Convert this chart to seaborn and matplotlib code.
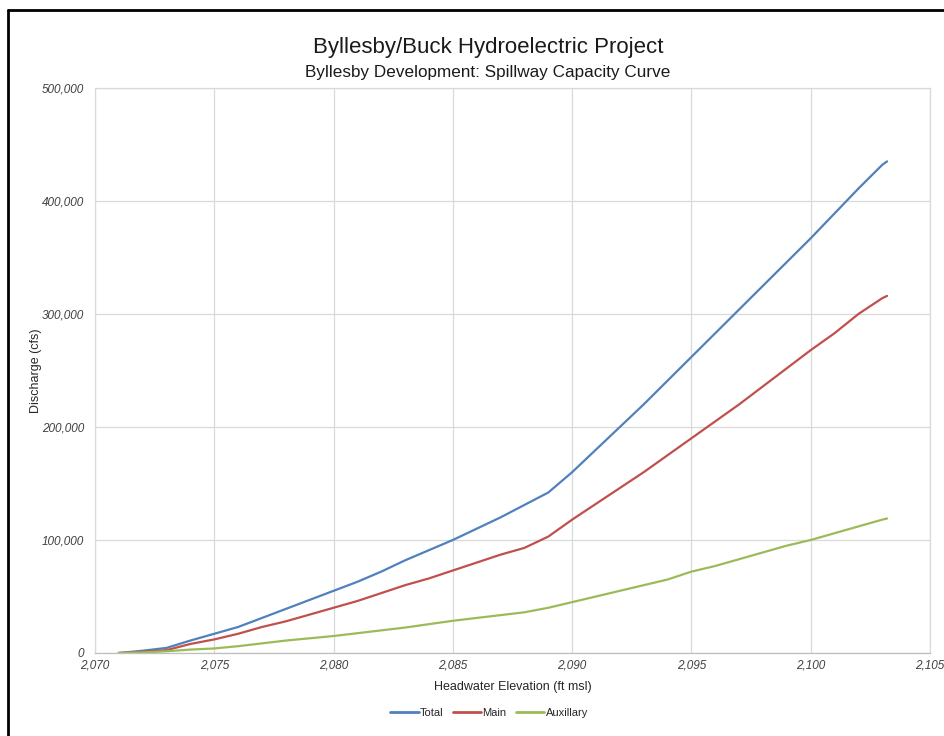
import pandas as pd
import numpy as np
import seaborn as sns
import matplotlib
matplotlib.use("Agg")
import matplotlib.pyplot as plt
from matplotlib.lines import Line2D
from matplotlib.ticker import FuncFormatter, MultipleLocator

# Données (cote en ft msl, débit en cfs)
elevation = [2071, 2072, 2073, 2074, 2075, 2076, 2077, 2078, 2079, 2080,
             2081, 2082, 2083, 2084, 2085, 2086, 2087, 2088, 2089, 2090,
             2091, 2092, 2093, 2094, 2095, 2096, 2097, 2098, 2099, 2100,
             2101, 2102, 2103, 2103.2]
total = [0, 2000, 4500, 11000, 17000, 23000, 31000, 39000, 47000, 55000,
         63000, 72000, 82000, 91000, 100000, 110000, 120000, 131000, 142000, 160000,
         180000, 200000, 220000, 241000, 262000, 283000, 304000, 325000, 346000, 367000,
         389000, 411000, 432000, 435000]
main = [0, 1000, 2500, 8000, 12000, 17000, 23000, 28000, 34000, 40000,
        46000, 53000, 60000, 66000, 73000, 80000, 87000, 93000, 103000, 118000,
        132000, 146000, 160000, 175000, 190000, 205000, 220000, 236000, 252000, 268000,
        283000, 300000, 314000, 316000]
auxillary = [0, 500, 1500, 3000, 4000, 6000, 8500, 11000, 13000, 15000,
             17500, 20000, 22500, 25500, 28500, 31000, 33500, 36000, 40000, 45000,
             50000, 55000, 60000, 65000, 72000, 77000, 83000, 89000, 95000, 100000,
             106000, 112000, 118000, 119000]

series = ["Total", "Main", "Auxillary"]
colors = ["#4F81BD", "#C0504D", "#9BBB59"]

df = pd.DataFrame({"elev": elevation * 3,
                   "q": total + main + auxillary,
                   "serie": np.repeat(series, len(elevation))})

sns.set_theme(style="whitegrid")
plt.rcParams["font.family"] = ["Liberation Sans", "DejaVu Sans"]

fig = plt.figure(figsize=(9.44, 7.36), dpi=100)
ax = fig.add_axes([0.1006, 0.1128, 0.8846, 0.7677])

sns.lineplot(data=df, x="elev", y="q", hue="serie", hue_order=series,
             palette=colors, linewidth=1.6, ax=ax, legend=False)

ax.set_xlim(2070, 2105)
ax.set_ylim(0, 500000)
ax.xaxis.set_major_locator(MultipleLocator(5))
ax.yaxis.set_major_locator(MultipleLocator(100000))
ax.xaxis.set_major_formatter(FuncFormatter(lambda v, p: f"{v:,.0f}"))
ax.yaxis.set_major_formatter(FuncFormatter(lambda v, p: f"{v:,.0f}"))
for lab in ax.get_xticklabels() + ax.get_yticklabels():
    lab.set_fontstyle("italic")
ax.tick_params(axis="both", labelsize=8.5, labelcolor="#404040", length=0)
ax.tick_params(axis="y", pad=8)
ax.tick_params(axis="x", pad=5)

ax.grid(True, color="#d9d9d9", linewidth=0.9)
for s in ax.spines.values():
    s.set_color("#d9d9d9")
    s.set_linewidth(0.9)
ax.spines["bottom"].set_color("#bfbfbf")

ax.set_xlabel("Headwater Elevation (ft msl)", fontsize=9, color="#262626")
ax.set_ylabel("Discharge (cfs)", fontsize=9, color="#262626")
ax.xaxis.set_label_coords(0.5, -0.05)
ax.yaxis.set_label_coords(-0.064, 0.5)

fig.text(0.517, 0.935, "Byllesby/Buck Hydroelectric Project", ha="center", va="center",
         fontsize=16, color="#1a1a1a")
fig.text(0.517, 0.901, "Byllesby Development: Spillway Capacity Curve", ha="center", va="center",
         fontsize=12.3, color="#1a1a1a")

handles = [Line2D([0], [0], color=c, linewidth=2) for c in colors]
fig.legend(handles, series, loc="center", bbox_to_anchor=(0.518, 0.031), ncol=3,
           frameon=False, fontsize=8, handlelength=2.6, handletextpad=0.1,
           columnspacing=0.8)

# Cadre noir (bords gauche et haut)
fig.add_artist(Line2D([0.008, 0.008], [0, 0.987], color="black", linewidth=2,
                      transform=fig.transFigure))
fig.add_artist(Line2D([0.008, 1], [0.987, 0.987], color="black", linewidth=2,
                      transform=fig.transFigure))

fig.savefig("out.png", dpi=100, facecolor="white")
